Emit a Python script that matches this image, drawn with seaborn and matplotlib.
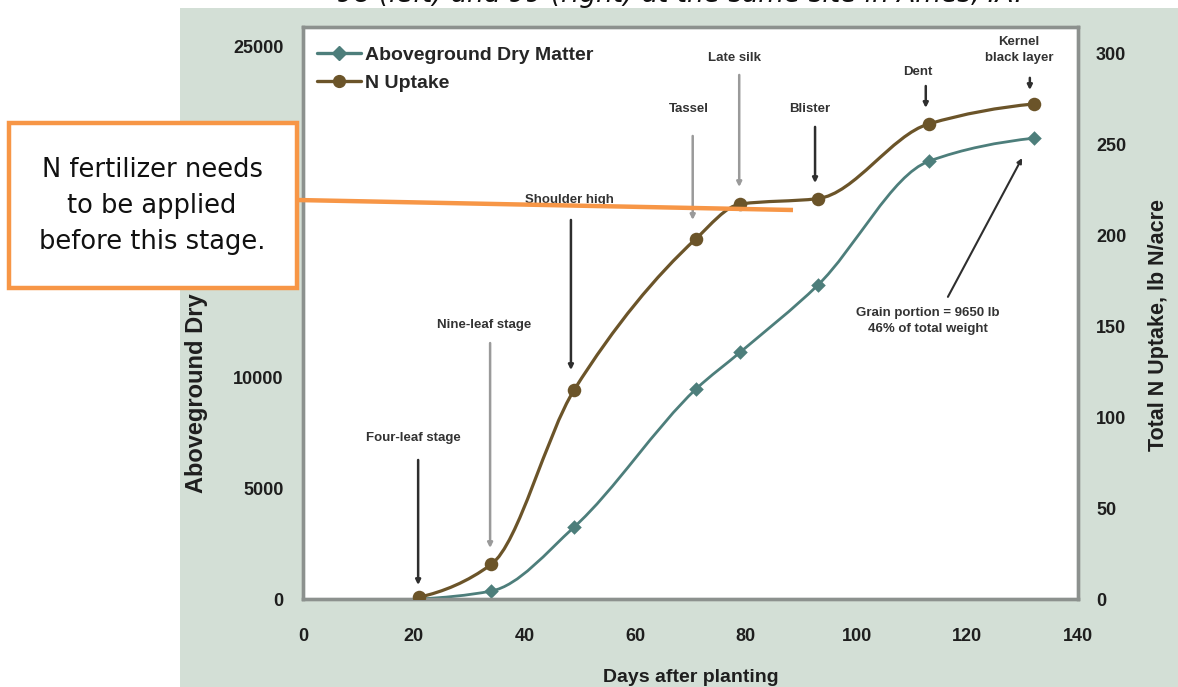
import numpy as np
import pandas as pd
import matplotlib
matplotlib.use("Agg")
import matplotlib.pyplot as plt
import seaborn as sns
from matplotlib.path import Path
from matplotlib.patches import PathPatch, Rectangle
from matplotlib.lines import Line2D

# ---------------- data ----------------
days = [21, 34, 49, 71, 79, 93, 113, 132]
dry_matter = [0, 360, 3260, 9500, 11170, 14200, 19800, 20850]      # lb/acre (left axis)
n_uptake = [1, 19, 115, 198, 217, 220, 261, 272]                    # lb N/acre (right axis)
series_names = ["Aboveground Dry Matter", "N Uptake"]
left_ticks = [0, 5000, 10000, 15000, 20000, 25000]
left_tick_labels = ["0", "5000", "10000", "", "", "25000"]   # 15000/20000 hidden behind callout
right_ticks = [0, 50, 100, 150, 200, 250, 300]
x_ticks = [0, 20, 40, 60, 80, 100, 120, 140]
stage_labels = ["Four-leaf stage", "Nine-leaf stage", "Shoulder high", "Tassel",
                "Late silk", "Blister", "Dent", "Kernel\nblack layer"]
grain_note = "Grain portion = 9650 lb\n46% of total weight"
callout_text = "N fertilizer needs\nto be applied\nbefore this stage."
title_fragment = "98 (left) and 99 (right) at the same site in Ames, IA."

TEAL = "#4d7e7b"
BROWN = "#6b5429"
ORANGE = "#f79646"
SAGE = "#d3dfd6"
FRAME = "#8c918e"

W, H = 1178, 687


def fx(px):
    return px / W


def fy(py):
    return 1 - py / H


def pchip_slopes(x, y):
    x = np.asarray(x, float)
    y = np.asarray(y, float)
    h = np.diff(x)
    d = np.diff(y) / h
    m = np.zeros_like(x)
    for k in range(1, len(x) - 1):
        if d[k - 1] * d[k] <= 0:
            m[k] = 0.0
        else:
            w1 = 2 * h[k] + h[k - 1]
            w2 = h[k] + 2 * h[k - 1]
            m[k] = (w1 + w2) / (w1 / d[k - 1] + w2 / d[k])
    m[0] = d[0] * 0.5
    m[-1] = d[-1] * 0.5
    return m


def smooth_path(x, y):
    x = np.asarray(x, float)
    y = np.asarray(y, float)
    m = pchip_slopes(x, y)
    verts = [(x[0], y[0])]
    codes = [Path.MOVETO]
    for i in range(len(x) - 1):
        h = x[i + 1] - x[i]
        verts += [(x[i] + h / 3, y[i] + m[i] * h / 3),
                  (x[i + 1] - h / 3, y[i + 1] - m[i + 1] * h / 3),
                  (x[i + 1], y[i + 1])]
        codes += [Path.CURVE4] * 3
    return Path(verts, codes)


sns.set_theme(style="white")
plt.rcParams["font.family"] = ["Liberation Sans", "DejaVu Sans"]

fig = plt.figure(figsize=(W / 100, H / 100), dpi=100, facecolor="white")
fig.patches.append(Rectangle((fx(180), 0), 1 - fx(180), fy(8), transform=fig.transFigure,
                             facecolor=SAGE, edgecolor="none", zorder=-10))

ax = fig.add_axes([fx(303), fy(599), fx(1078) - fx(303), fy(27) - fy(599)])
ax.set_facecolor("white")
ax2 = ax.twinx()
ax2.set_facecolor("none")

df = pd.DataFrame({"day": days, "dm": dry_matter, "n": n_uptake})

# smooth lines
ax.add_patch(PathPatch(smooth_path(days, dry_matter), facecolor="none", edgecolor=TEAL,
                       lw=2.0, zorder=3))
ax2.add_patch(PathPatch(smooth_path(days, n_uptake), facecolor="none", edgecolor=BROWN,
                        lw=2.3, zorder=3))
sns.scatterplot(data=df, x="day", y="dm", ax=ax, marker="D", s=55, color=TEAL,
                linewidth=0, zorder=4, legend=False)
sns.scatterplot(data=df, x="day", y="n", ax=ax2, marker="o", s=95, color=BROWN,
                linewidth=0, zorder=4, legend=False)

ax.set_xlim(0, 140)
ax.set_ylim(0, 25880)
ax2.set_ylim(0, 314.3)
ax.set_xticks(x_ticks)
ax.set_yticks(left_ticks)
ax2.set_yticks(right_ticks)
tick_font = dict(fontsize=13, fontweight="bold", color="#1e1e1e")
ax.set_xticklabels([str(t) for t in x_ticks], **tick_font)
ax.set_yticklabels(left_tick_labels, **tick_font)
ax2.set_yticklabels([str(t) for t in right_ticks], **tick_font)
ax.tick_params(axis="x", length=0, pad=21)
ax.tick_params(axis="y", length=0, pad=14)
ax2.tick_params(axis="y", length=0, pad=13)

ax.set_xlabel("Days after planting", fontsize=14, fontweight="bold", color="#1e1e1e", labelpad=17)
ax.set_ylabel("Aboveground Dry Matter, lb/acre", fontsize=17, fontweight="bold", color="#1e1e1e")
ax.yaxis.set_label_coords(-0.1226, 0.505)
ax2.set_ylabel("Total N Uptake, lb N/acre", fontsize=15.5, fontweight="bold", color="#1e1e1e")
ax2.yaxis.set_label_coords(1.090, 0.479)

for a in (ax, ax2):
    for s in a.spines.values():
        s.set_color(FRAME)
        s.set_linewidth(2.4)
    a.grid(False)

# legend
handles = [Line2D([], [], color=TEAL, lw=2.4, marker="D", markersize=7),
           Line2D([], [], color=BROWN, lw=2.4, marker="o", markersize=8.5)]
ax.legend(handles, series_names, loc="upper left", bbox_to_anchor=(0.0, 0.99), frameon=False,
          prop=dict(size=14, weight="bold"), handlelength=2.3, handletextpad=0.2,
          labelspacing=0.55, borderaxespad=0.3)

# stage annotations (data coords on left axis)
dark = "#2e2e2e"
light = "#9a9a9a"
stage_text_pos = [(19.9, 7285), (32.7, 12400), (48.2, 18054), (69.7, 22170),
                  (78.0, 24480), (91.6, 22170), (111.1, 23850), (129.3, 24840)]
stage_arrows = [((20.8, 6290), (20.8, 633), dark),
                ((33.8, 11580), (33.8, 2308), light),
                ((48.4, 17150), (48.4, 10360), dark),
                ((70.4, 20950), (70.4, 17150), light),
                ((78.8, 23710), (78.8, 18640), light),
                ((92.5, 21360), (92.5, 18820), dark),
                ((112.5, 23210), (112.5, 22220), dark),
                ((131.3, 23580), (131.3, 23030), dark)]
for lab, (tx, ty) in zip(stage_labels, stage_text_pos):
    ax.text(tx, ty, lab, ha="center", va="center", fontsize=9.5, fontweight="bold",
            color="#333333", linespacing=1.5, zorder=5)
for (tail, tip, col) in stage_arrows:
    ax.annotate("", xy=tip, xytext=tail,
                arrowprops=dict(arrowstyle="-|>", color=col, lw=1.8, mutation_scale=7,
                                shrinkA=0, shrinkB=0), zorder=5)
ax.text(112.9, 12580, grain_note, ha="center", va="center", fontsize=9.5, fontweight="bold",
        color="#333333", linespacing=1.5, zorder=5)
ax.annotate("", xy=(129.9, 19950), xytext=(116.5, 13670),
            arrowprops=dict(arrowstyle="-|>", color=dark, lw=1.5, mutation_scale=7,
                            shrinkA=0, shrinkB=0), zorder=5)

# callout box and line (figure coords)
fig.add_artist(Line2D([fx(297), fx(793)], [fy(200), fy(210)], transform=fig.transFigure,
                      color=ORANGE, lw=3.2, zorder=20, solid_capstyle="butt"))
fig.add_artist(Rectangle((fx(9), fy(288)), fx(297) - fx(9), fy(123) - fy(288),
                         transform=fig.transFigure, facecolor="white", edgecolor=ORANGE,
                         lw=3.2, zorder=21))
fig.text(fx(152), fy(206), callout_text, ha="center", va="center", fontsize=18.5,
         family=["DejaVu Sans"], color="#111111", linespacing=1.5, zorder=22)

# truncated caption line at top
fig.text(fx(680), fy(2), title_fragment, ha="center", va="baseline", fontsize=19,
         style="italic", family=["DejaVu Sans"], color="#111111")

fig.savefig("out.png", dpi=100, facecolor="white")
